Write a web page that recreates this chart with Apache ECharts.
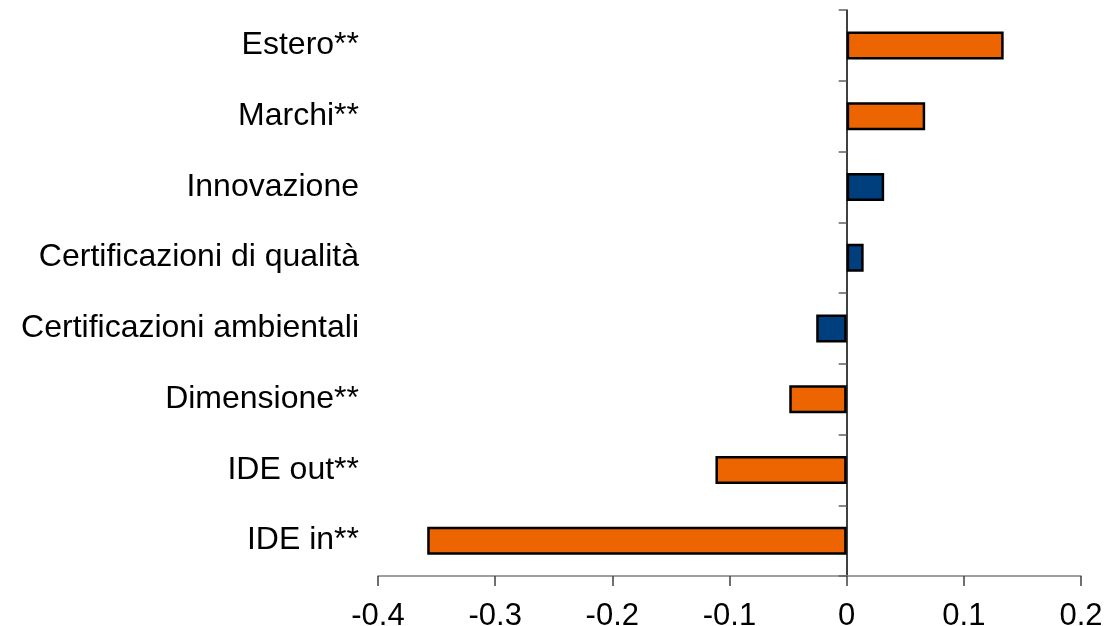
<!DOCTYPE html>
<html>
<head>
<meta charset="utf-8">
<script src="https://cdn.jsdelivr.net/npm/echarts@6/dist/echarts.min.js"></script>
<style>
html, body { margin: 0; padding: 0; background: #fff; }
#chart { width: 1108px; height: 626px; }
</style>
</head>
<body>
<div id="chart"></div>
<script>
// categories from bottom to top (category axis starts at the bottom)
const categories = ['IDE in**', 'IDE out**', 'Dimensione**', 'Certificazioni ambientali',
    'Certificazioni di qualità', 'Innovazione', 'Marchi**', 'Estero**']
const values = [-0.358, -0.112, -0.049, -0.026, 0.0145, 0.032, 0.067, 0.134]
// significant (**) bars are orange, the others blue
const significant = [true, true, true, false, false, false, true, true]
const xTicks = [-0.4, -0.3, -0.2, -0.1, 0, 0.1, 0.2]

const ORANGE = '#ED6500'
const BLUE = '#003F7E'

const chart = echarts.init(document.getElementById('chart'))

const option = {
    animation: false,
    grid: { left: 378, right: 27, top: 10, bottom: 50, outerBoundsMode: 'none', containLabel: false },
    xAxis: {
        type: 'value',
        min: xTicks[0],
        max: xTicks[xTicks.length - 1],
        interval: 0.1,
        splitLine: { show: false },
        axisLine: { show: true, lineStyle: { color: '#808080', width: 1.5 } },
        axisTick: { show: true, length: 10, lineStyle: { color: '#404040', width: 1.5 } },
        axisLabel: {
            color: '#000',
            fontFamily: 'Liberation Sans',
            fontSize: 31,
            margin: 25,
            formatter: v => (Math.abs(v) < 1e-9 ? '0' : String(Math.round(v * 10) / 10))
        }
    },
    yAxis: [
        {
            // the axis line drawn through zero
            type: 'category',
            data: categories,
            axisLine: { show: true, onZero: true, lineStyle: { color: '#000', width: 1.5 } },
            axisTick: { show: true, length: 8, lineStyle: { color: '#606060', width: 1.5 } },
            axisLabel: { show: false }
        },
        {
            // the labels on the left
            type: 'category',
            data: categories,
            position: 'left',
            axisLine: { show: false, onZero: false },
            axisTick: { show: false },
            axisLabel: {
                color: '#000',
                fontFamily: 'Liberation Sans',
                fontSize: 32,
                margin: 19
            }
        }
    ],
    series: [
        {
            type: 'bar',
            yAxisIndex: 0,
            barWidth: 28,
            data: values.map((v, i) => ({
                value: v,
                itemStyle: { color: significant[i] ? ORANGE : BLUE }
            })),
            itemStyle: { borderColor: '#000', borderWidth: 2.5 }
        }
    ]
}

chart.setOption(option)
</script>
</body>
</html>
